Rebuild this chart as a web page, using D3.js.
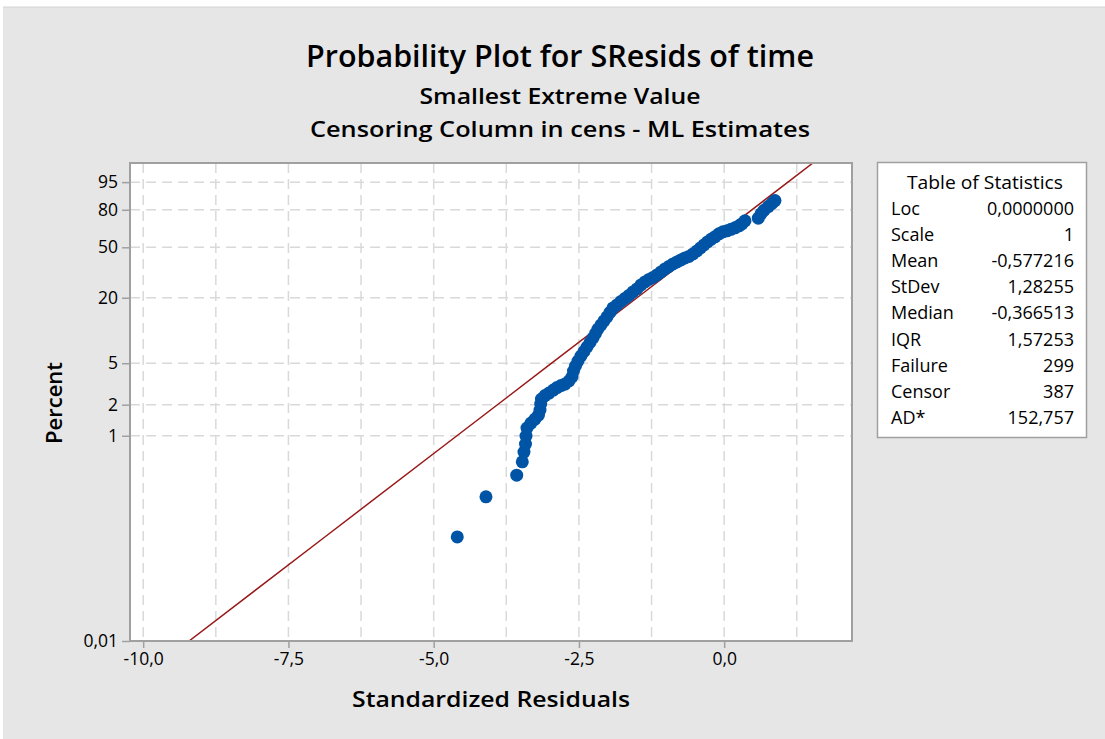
<!DOCTYPE html>
<html>
<head>
<meta charset="utf-8">
<script src="https://cdn.jsdelivr.net/npm/d3@7"></script>
<style>
  html, body { margin: 0; padding: 0; background: #ffffff; }
  svg { display: block; font-family: "Open Sans", "Noto Sans", sans-serif; }
</style>
</head>
<body>
<svg id="chart" width="1105" height="739"></svg>
<script>
// Percent axis ticks (smallest extreme value probability scale)
const percentTicks = [0.01, 1, 2, 5, 20, 50, 80, 95];
const percentTickLabels = ["0,01", "1", "2", "5", "20", "50", "80", "95"];

// Residual axis ticks and grid positions
const residTicks = [-10, -7.5, -5, -2.5, 0];
const residTickLabels = ["-10,0", "-7,5", "-5,0", "-2,5", "0,0"];
const residGrid = [-10, -8.75, -7.5, -6.25, -5, -3.75, -2.5, -1.25, 0, 1.25];

// Plotted failures: standardized residual and plotting position (percent)
const residuals = [
  -4.594, -4.100, -3.571, -3.475, -3.446, -3.420, -3.411, -3.394, -3.325, -3.256,
  -3.196, -3.170, -3.158, -3.145, -3.084, -3.015, -2.941, -2.878, -2.809, -2.740,
  -2.671, -2.620, -2.594, -2.559, -2.516, -2.465, -2.413, -2.361, -2.310, -2.258,
  -2.215, -2.172, -2.120, -2.069, -2.017, -1.966, -1.914, -1.845, -1.776, -1.707,
  -1.639, -1.570, -1.501, -1.432, -1.363, -1.294, -1.225, -1.157, -1.088, -1.019,
  -0.950, -0.881, -0.812, -0.744, -0.675, -0.606, -0.537, -0.468, -0.408, -0.348,
  -0.287, -0.227, -0.158, -0.090, -0.021, 0.048, 0.117, 0.186, 0.255, 0.306,
  0.358, 0.587, 0.633, 0.685, 0.759, 0.823, 0.874
];
const percents = [
  0.1036, 0.2546, 0.4143, 0.5584, 0.694, 0.830, 0.993, 1.188, 1.328, 1.452,
  1.588, 1.775, 2.029, 2.267, 2.451, 2.590, 2.769, 2.926, 3.059, 3.162,
  3.379, 3.691, 4.213, 4.702, 5.247, 5.853, 6.456, 7.118, 7.846, 8.644,
  9.520, 10.477, 11.406, 12.410, 13.495, 14.82, 16.264, 17.294, 18.561, 19.731,
  20.953, 22.46, 23.822, 25.75, 27.27, 28.60, 29.70, 31.12, 32.89, 34.73,
  36.32, 37.96, 39.31, 40.68, 42.09, 43.17, 45.00, 47.24, 49.55, 51.90,
  54.29, 56.32, 58.36, 60.83, 62.48, 63.31, 64.55, 65.79, 67.44, 69.08,
  71.51, 73.67, 77.00, 79.60, 82.30, 84.45, 86.22
];

// Fitted distribution
const fitLoc = 0;
const fitScale = 1;
const fitPercents = [0.01, 0.1, 1, 5, 20, 50, 80, 95, 99];

// Statistics table
const statNames = ["Loc", "Scale", "Mean", "StDev", "Median", "IQR", "Failure", "Censor", "AD*"];
const statValues = ["0,0000000", "1", "-0,577216", "1,28255", "-0,366513", "1,57253", "299", "387", "152,757"];

const titleLines = [
  "Probability Plot for SResids of time",
  "Smallest Extreme Value",
  "Censoring Column in cens - ML Estimates"
];

// ---- scales ----
const sev = p => Math.log(-Math.log(1 - p / 100));   // smallest extreme value score
const plot = { left: 130, right: 852, top: 163, bottom: 641 };

const x = d3.scaleLinear().domain([-10.227, 2.2]).range([plot.left, plot.right]);
const y = d3.scaleLinear().domain([sev(0.01), sev(99)]).range([plot.bottom, plot.top]);

const svg = d3.select("#chart");

// figure background
svg.append("rect").attr("x", 3).attr("y", 7).attr("width", 1102).attr("height", 732)
  .attr("fill", "#e6e6e6");
svg.append("line").attr("x1", 3).attr("x2", 1105).attr("y1", 7).attr("y2", 7)
  .attr("stroke", "#d4d4d4").attr("stroke-width", 1);

// plot area
svg.append("rect")
  .attr("x", plot.left).attr("y", plot.top)
  .attr("width", plot.right - plot.left).attr("height", plot.bottom - plot.top)
  .attr("fill", "#ffffff");

const clip = svg.append("defs").append("clipPath").attr("id", "plotclip");
clip.append("rect").attr("x", plot.left).attr("y", plot.top)
  .attr("width", plot.right - plot.left).attr("height", plot.bottom - plot.top);

// grid
const grid = svg.append("g").attr("stroke", "#d9d9d9").attr("stroke-width", 1.5)
  .attr("stroke-dasharray", "10,6");
grid.selectAll("line.v").data(residGrid).join("line").attr("class", "v")
  .attr("x1", d => x(d)).attr("x2", d => x(d))
  .attr("y1", plot.top).attr("y2", plot.bottom);
grid.selectAll("line.h").data(percentTicks.filter(p => p > 0.01)).join("line").attr("class", "h")
  .attr("x1", plot.left).attr("x2", plot.right)
  .attr("y1", d => y(sev(d))).attr("y2", d => y(sev(d)));

// fitted line
const fitLine = d3.line()
  .x(p => x(fitLoc + fitScale * sev(p)))
  .y(p => y(sev(p)));
svg.append("path").datum(fitPercents)
  .attr("clip-path", "url(#plotclip)")
  .attr("d", fitLine)
  .attr("fill", "none").attr("stroke", "#981818").attr("stroke-width", 1.5);

// points
svg.append("g").attr("clip-path", "url(#plotclip)")
  .selectAll("circle").data(residuals.map((r, i) => ({ r, p: percents[i] })))
  .join("circle")
  .attr("cx", d => x(d.r)).attr("cy", d => y(sev(d.p)))
  .attr("r", 6.5).attr("fill", "#0054a6");

// frame
svg.append("rect")
  .attr("x", plot.left).attr("y", plot.top)
  .attr("width", plot.right - plot.left).attr("height", plot.bottom - plot.top)
  .attr("fill", "none").attr("stroke", "#a0a0a0").attr("stroke-width", 2);

// axes
const xAxis = d3.axisBottom(x).tickValues(residTicks)
  .tickFormat((d, i) => residTickLabels[i]).tickSize(7).tickSizeOuter(0).tickPadding(5);
const gx = svg.append("g").attr("transform", `translate(0,${plot.bottom})`).call(xAxis);

const yAxis = d3.axisLeft(y).tickValues(percentTicks.map(sev))
  .tickFormat((d, i) => percentTickLabels[i]).tickSize(8).tickSizeOuter(0).tickPadding(4);
const gy = svg.append("g").attr("transform", `translate(${plot.left},0)`).call(yAxis);

[gx, gy].forEach(g => {
  g.select(".domain").remove();
  g.selectAll(".tick line").attr("stroke", "#a0a0a0").attr("stroke-width", 1.5);
  g.selectAll(".tick text").attr("fill", "#000").attr("font-size", 17.5)
    .attr("font-family", "'Open Sans', sans-serif");
});

// titles
const titleSizes = [30, 22, 22];
const titleY = [67, 104, 137];
const titleWidths = [508, 281, 500];
titleLines.forEach((t, i) => {
  svg.append("text").attr("x", 560).attr("y", titleY[i])
    .attr("text-anchor", "middle").attr("font-size", titleSizes[i])
    .attr("textLength", titleWidths[i]).attr("lengthAdjust", "spacingAndGlyphs")
    .attr("font-weight", 600).attr("fill", "#000").text(t);
});

svg.append("text").attr("transform", "translate(62,403) rotate(-90)")
  .attr("text-anchor", "middle").attr("font-size", 22).attr("font-weight", 600)
  .attr("fill", "#000").text("Percent");

svg.append("text").attr("x", 491).attr("y", 707)
  .attr("text-anchor", "middle").attr("font-size", 22).attr("font-weight", 600)
  .attr("textLength", 278).attr("lengthAdjust", "spacingAndGlyphs")
  .attr("fill", "#000").text("Standardized Residuals");

// statistics table
const tbl = svg.append("g");
tbl.append("rect").attr("x", 877.5).attr("y", 162.5).attr("width", 209).attr("height", 275)
  .attr("fill", "#ffffff").attr("stroke", "#a0a0a0").attr("stroke-width", 1.5);
tbl.append("text").attr("x", 985).attr("y", 189).attr("text-anchor", "middle")
  .attr("font-size", 18).attr("font-weight", 500).attr("fill", "#000")
  .attr("textLength", 156).attr("lengthAdjust", "spacingAndGlyphs")
  .text("Table of Statistics");
statNames.forEach((n, i) => {
  const yy = 214.5 + i * 26.2;
  tbl.append("text").attr("x", 891).attr("y", yy).attr("font-size", 18)
    .attr("font-weight", 500).attr("fill", "#000").text(n);
  tbl.append("text").attr("x", 1074).attr("y", yy).attr("text-anchor", "end")
    .attr("font-size", 18).attr("font-weight", 500).attr("fill", "#000").text(statValues[i]);
});
</script>
</body>
</html>
